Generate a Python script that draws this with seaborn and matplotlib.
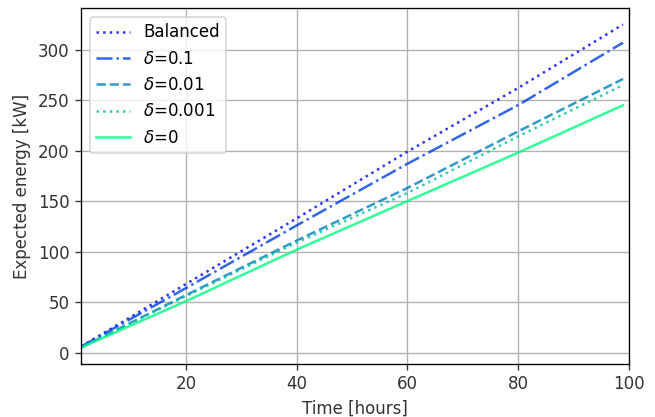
import matplotlib
matplotlib.use("Agg")
import matplotlib.pyplot as plt
import seaborn as sns
import pandas as pd

time_h = [1, 20, 40, 60, 80, 99]
balanced = [6, 68, 133, 199, 262, 325]
delta_01 = [6, 64, 126, 187, 245, 307]
delta_001 = [5, 57, 111, 163, 219, 271]
delta_0001 = [5, 56, 109, 158, 214, 265]
delta_0 = [5, 51, 102, 150, 198, 245]

labels = ["Balanced", r"$\delta$=0.1", r"$\delta$=0.01", r"$\delta$=0.001", r"$\delta$=0"]
series = [balanced, delta_01, delta_001, delta_0001, delta_0]
styles = [":", "-.", "--", ":", "-"]

DPI = 120
fig, ax = plt.subplots(figsize=(655 / DPI, 417 / DPI), dpi=DPI)
fig.subplots_adjust(left=0.124, right=0.9596, top=0.980, bottom=0.128)

cmap = matplotlib.colormaps["winter"]
n = len(series)
for i, (lab, vals, ls) in enumerate(zip(labels, series, styles)):
    df = pd.DataFrame({"t": time_h, "v": vals})
    sns.lineplot(data=df, x="t", y="v", ax=ax, color=cmap(i / (n - 1)),
                 alpha=0.8, linestyle=ls, linewidth=1.5, label=lab)

ax.set_xlim(1, 100)
ax.set_xticks([20, 40, 60, 80, 100])
ax.set_yticks([0, 50, 100, 150, 200, 250, 300])
ax.grid(True, color="#b0b0b0", linewidth=0.8)
ax.tick_params(colors="#333333", labelcolor="#333333")
ax.set_xlabel("Time [hours]", color="#333333")
ax.set_ylabel("Expected energy [kW]", color="#333333")
ax.legend(loc="upper left")
fig.savefig("out.png", dpi=DPI)
